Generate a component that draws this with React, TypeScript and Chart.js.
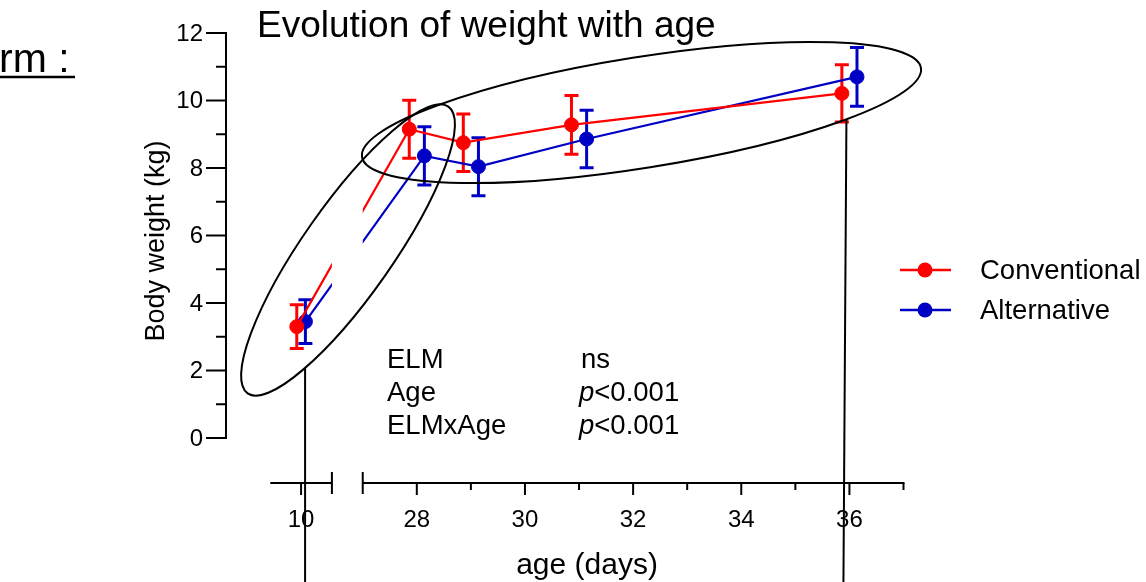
import React, { useEffect, useRef } from "react";
import { Chart, registerables } from "chart.js";

Chart.register(...registerables);

// ---- data ----
const ages = [10, 28, 29, 31, 36];
const conventionalMean = [3.3, 9.15, 8.75, 9.28, 10.21];
const conventionalSd = [0.65, 0.86, 0.85, 0.87, 0.85];
const alternativeMean = [3.45, 8.36, 8.04, 8.86, 10.7];
const alternativeSd = [0.65, 0.86, 0.86, 0.85, 0.87];

const yTicks = [0, 2, 4, 6, 8, 10, 12];
const xTicksMajor = [10, 28, 30, 32, 34, 36];
const xTicksMinor = [29, 31, 33, 35, 37];

const statNames = ["ELM", "Age", "ELMxAge"];
const statResults = ["ns", "p<0.001", "p<0.001"];

// ---- styling / layout ----
const RED = "#FF0000";
const BLUE = "#0000C4";
const FONT = "'Liberation Sans', Arial, Helvetica, sans-serif";

// broken x axis: a compressed early segment followed by the main range
const LEFT_SEG: [number, number] = [9, 11];
const RIGHT_SEG: [number, number] = [27, 37];
const LEFT_COMPRESSION = 0.57;
const DODGE = 0.14; // side-by-side offset of the two groups, in days

function axisPos(d: number): number {
  if (d <= LEFT_SEG[1] + 0.5) {
    return RIGHT_SEG[0] - LEFT_COMPRESSION * (LEFT_SEG[1] + 1 - d);
  }
  return d;
}

// hand-drawn highlight rings (centre in axis units, radii in px, rotation in degrees)
const rings = [
  { cx: 26.728, cy: 5.57, rx: 175, ry: 45, rot: -55 },
  { cx: 32.155, cy: 9.644, rx: 283, ry: 55.4, rot: -9.05 },
];

function App() {
  const ref = useRef<HTMLCanvasElement>(null);

  useEffect(() => {
    document.body.style.margin = "0";
    const canvas = ref.current!;

    const line = (ctx: CanvasRenderingContext2D, x1: number, y1: number, x2: number, y2: number) => {
      ctx.beginPath();
      ctx.moveTo(x1, y1);
      ctx.lineTo(x2, y2);
      ctx.stroke();
    };

    // lowest point of a rotated ellipse crossed by the vertical x = x0
    const ringBottomAt = (cx: number, cy: number, rx: number, ry: number, rot: number, x0: number) => {
      const t = (rot * Math.PI) / 180;
      const dx = x0 - cx;
      let last = cy;
      for (let dy = 0; dy < 600; dy += 0.25) {
        const X = dx * Math.cos(t) + dy * Math.sin(t);
        const Y = -dx * Math.sin(t) + dy * Math.cos(t);
        if ((X * X) / (rx * rx) + (Y * Y) / (ry * ry) > 1) break;
        last = cy + dy;
      }
      return last;
    };

    const decor = {
      id: "prismDecor",
      beforeDatasetsDraw(chart: any) {
        const { ctx } = chart;
        const xs = chart.scales.x;
        const gapL = xs.getPixelForValue(axisPos(LEFT_SEG[1]));
        const gapR = xs.getPixelForValue(axisPos(RIGHT_SEG[0]));
        ctx.save();
        ctx.beginPath();
        ctx.rect(0, 0, gapL, chart.height);
        ctx.rect(gapR, 0, chart.width - gapR, chart.height);
        ctx.clip();

        // error bars (mean ± SD), last dataset first so the first sits on top
        const ys = chart.scales.y;
        for (let di = chart.data.datasets.length - 1; di >= 0; di--) {
          const ds = chart.data.datasets[di];
          const meta = chart.getDatasetMeta(di);
          ctx.strokeStyle = ds.borderColor;
          ctx.lineWidth = 3;
          ctx.lineCap = "butt";
          meta.data.forEach((pt: any, i: number) => {
            const v = ds.data[i].y;
            const sd = ds.sd[i];
            const top = ys.getPixelForValue(v + sd);
            const bot = ys.getPixelForValue(v - sd);
            line(ctx, pt.x, top, pt.x, bot);
            line(ctx, pt.x - 7, top, pt.x + 7, top);
            line(ctx, pt.x - 7, bot, pt.x + 7, bot);
          });
        }
      },
      afterDatasetsDraw(chart: any) {
        chart.ctx.restore();
      },
      afterDraw(chart: any) {
        const { ctx, chartArea } = chart;
        const xs = chart.scales.x;
        const ys = chart.scales.y;
        const px = (d: number) => xs.getPixelForValue(axisPos(d));
        const py = (v: number) => ys.getPixelForValue(v);

        ctx.save();
        ctx.strokeStyle = "#000";
        ctx.fillStyle = "#000";
        ctx.lineWidth = 2;
        ctx.lineCap = "butt";

        // y axis
        const ax = chartArea.left - 1;
        line(ctx, ax, py(12) - 1, ax, py(0) + 1);
        for (let v = 0; v <= 12; v++) {
          const len = v % 2 === 0 ? 20 : 10;
          line(ctx, ax - len, py(v), ax, py(v));
        }
        ctx.font = `24px ${FONT}`;
        ctx.textAlign = "right";
        ctx.textBaseline = "middle";
        yTicks.forEach((v) => ctx.fillText(String(v), ax - 23, py(v) + 1));

        // x axis (broken)
        const axY = py(0) + 45;
        line(ctx, px(LEFT_SEG[0]), axY, px(LEFT_SEG[1]), axY);
        line(ctx, px(RIGHT_SEG[0]), axY, px(RIGHT_SEG[1]) + 1, axY);
        line(ctx, px(LEFT_SEG[1]), axY - 11, px(LEFT_SEG[1]), axY + 11);
        line(ctx, px(RIGHT_SEG[0]), axY - 11, px(RIGHT_SEG[0]), axY + 11);
        xTicksMajor.forEach((d) => line(ctx, px(d), axY, px(d), axY + 12));
        xTicksMinor.forEach((d) => line(ctx, px(d), axY, px(d), axY + 7));
        ctx.font = `24px ${FONT}`;
        ctx.textAlign = "center";
        ctx.textBaseline = "middle";
        xTicksMajor.forEach((d) => ctx.fillText(String(d), px(d), axY + 37));

        // titles
        ctx.font = `37px ${FONT}`;
        ctx.textAlign = "left";
        ctx.textBaseline = "alphabetic";
        ctx.fillText("Evolution of weight with age", chartArea.left + 30, 37);

        ctx.font = `30px ${FONT}`;
        ctx.textAlign = "center";
        ctx.fillText("age (days)", 587, 574);

        ctx.save();
        ctx.translate(164, 241);
        ctx.rotate(-Math.PI / 2);
        ctx.font = `27px ${FONT}`;
        ctx.textAlign = "center";
        ctx.textBaseline = "alphabetic";
        ctx.fillText("Body weight (kg)", 0, 0);
        ctx.restore();

        // statistics block
        ctx.textAlign = "left";
        ctx.textBaseline = "alphabetic";
        statNames.forEach((s, i) => {
          const by = 368 + i * 33;
          ctx.font = `27.5px ${FONT}`;
          ctx.fillText(s, 387, by);
          const r = statResults[i];
          if (r.startsWith("p")) {
            ctx.font = `italic 27.5px ${FONT}`;
            ctx.fillText("p", 579, by);
            const w = ctx.measureText("p").width;
            ctx.font = `27.5px ${FONT}`;
            ctx.fillText(r.slice(1), 579 + w, by);
          } else {
            ctx.fillText(r, 581, by);
          }
        });

        // legend
        chart.data.datasets.forEach((ds: any, i: number) => {
          const ly = 270 + i * 40;
          ctx.strokeStyle = ds.borderColor;
          ctx.fillStyle = ds.borderColor;
          ctx.lineWidth = 2.5;
          line(ctx, 900, ly, 951, ly);
          ctx.beginPath();
          ctx.arc(925, ly, 7.5, 0, Math.PI * 2);
          ctx.fill();
          ctx.fillStyle = "#000";
          ctx.font = `27.5px ${FONT}`;
          ctx.textBaseline = "middle";
          ctx.fillText(ds.label, 980, ly + 1);
        });

        // highlight rings and their leader lines
        ctx.strokeStyle = "#000";
        ctx.lineWidth = 2;
        const ringPx = rings.map((r) => ({
          x: xs.getPixelForValue(r.cx),
          y: ys.getPixelForValue(r.cy),
          rx: r.rx,
          ry: r.ry,
          rot: r.rot,
        }));
        ringPx.forEach((r) => {
          ctx.beginPath();
          ctx.ellipse(r.x, r.y, r.rx, r.ry, (r.rot * Math.PI) / 180, 0, Math.PI * 2);
          ctx.stroke();
        });
        const leftX = px(10) + 4;
        const leftTop = ringBottomAt(ringPx[0].x, ringPx[0].y, ringPx[0].rx, ringPx[0].ry, ringPx[0].rot, leftX);
        line(ctx, leftX, leftTop, leftX, chart.height);
        const rightX = px(36) - 3;
        const rightTop = ringBottomAt(ringPx[1].x, ringPx[1].y, ringPx[1].rx, ringPx[1].ry, ringPx[1].rot, rightX);
        line(ctx, rightX, rightTop, rightX - 3, chart.height);

        // section heading fragment at the top-left edge
        ctx.fillStyle = "#000";
        ctx.font = `41px ${FONT}`;
        ctx.textAlign = "left";
        ctx.textBaseline = "alphabetic";
        ctx.fillText("rm :", -1, 72);
        ctx.lineWidth = 2.5;
        line(ctx, 0, 77, 75, 77);

        ctx.restore();
      },
    };

    const chart = new Chart(canvas, {
      type: "line",
      data: {
        datasets: [
          {
            label: "Conventional",
            data: ages.map((a, i) => ({ x: axisPos(a - DODGE), y: conventionalMean[i] })),
            sd: conventionalSd,
            borderColor: RED,
            backgroundColor: RED,
            pointBackgroundColor: RED,
            pointBorderColor: RED,
            borderWidth: 2.2,
            pointRadius: 7,
            pointBorderWidth: 1,
            tension: 0,
          } as any,
          {
            label: "Alternative",
            data: ages.map((a, i) => ({ x: axisPos(a + DODGE), y: alternativeMean[i] })),
            sd: alternativeSd,
            borderColor: BLUE,
            backgroundColor: BLUE,
            pointBackgroundColor: BLUE,
            pointBorderColor: BLUE,
            borderWidth: 2.2,
            pointRadius: 7,
            pointBorderWidth: 1,
            tension: 0,
          } as any,
        ],
      },
      options: {
        responsive: false,
        animation: false,
        devicePixelRatio: 1,
        events: [],
        layout: { padding: { left: 227, right: 242.5, top: 33, bottom: 144 } },
        scales: {
          x: { type: "linear", display: false, min: 24.49, max: 37 },
          y: { type: "linear", display: false, min: 0, max: 12 },
        },
        plugins: {
          legend: { display: false },
          title: { display: false },
          tooltip: { enabled: false },
        },
      },
      plugins: [decor],
    });

    return () => chart.destroy();
  }, []);

  return (
    <div style={{ width: 1146, height: 582, overflow: "hidden", background: "#fff" }}>
      <canvas ref={ref} width={1146} height={582} style={{ display: "block" }} />
    </div>
  );
}

export default App;
